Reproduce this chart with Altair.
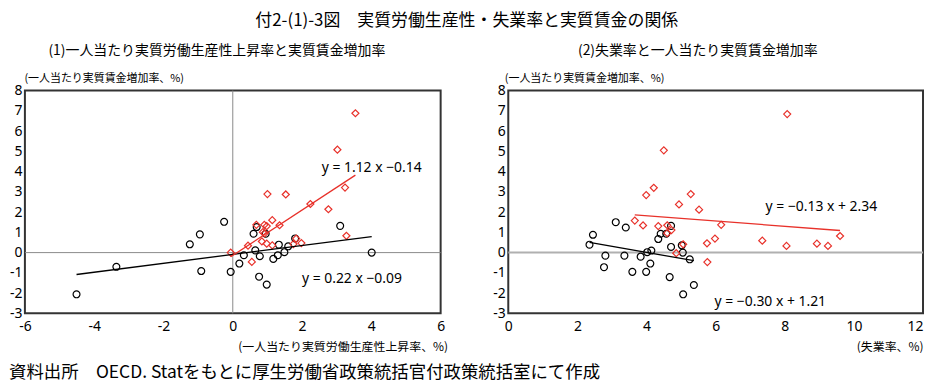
import altair as alt
import pandas as pd
import numpy as np

FONT_JP = "Noto Sans CJK JP"
FONT_NUM = "Noto Sans"
RED = "#e8312a"

title_main = "付2-(1)-3図　実質労働生産性・失業率と実質賃金の関係"
subtitle_1 = "(1)一人当たり実質労働生産性上昇率と実質賃金増加率"
subtitle_2 = "(2)失業率と一人当たり実質賃金増加率"
y_title = "(一人当たり実質賃金増加率、%)"
x_title_1 = "(一人当たり実質労働生産性上昇率、%)"
x_title_2 = "(失業率、%)"
footnote = "資料出所　OECD. Statをもとに厚生労働省政策統括官付政策統括室にて作成"

# Panel (1): productivity growth (x) vs real wage growth (y)
p1_black_x = [-4.51, -3.36, -1.24, -0.95, -0.91, -0.25, -0.06, 0.19, 0.32, 0.60, 0.69, 0.65,
              0.76, 0.78, 0.95, 0.98, 1.17, 1.30, 1.33, 1.49, 1.60, 1.80, 3.10, 4.01]
p1_black_y = [-2.06, -0.70, 0.41, 0.90, -0.91, 1.52, -0.95, -0.54, -0.13, 0.93, 1.26, 0.11,
              -1.19, -0.18, 0.93, -1.58, -0.31, -0.13, 0.39, 0.02, 0.31, 0.70, 1.32, 0.00]
p1_red_x = [3.54, 3.02, 3.24, 1.00, 1.53, 2.24, 2.76, 1.14, 1.35, 0.68, 0.91, 0.98,
            0.87, 0.92, 3.28, 1.83, 0.84, 0.98, 1.14, 0.44, 1.75, 1.98, -0.06, 0.55]
p1_red_y = [6.88, 5.08, 3.21, 2.89, 2.87, 2.40, 2.14, 1.60, 1.35, 1.37, 1.37, 1.31,
            1.01, 0.95, 0.83, 0.69, 0.55, 0.44, 0.36, 0.34, 0.42, 0.47, 0.00, -0.46]

# Panel (2): unemployment rate (x) vs real wage growth (y)
p2_black_x = [2.35, 2.45, 2.81, 2.77, 3.11, 3.36, 3.40, 3.59, 3.83, 3.99, 4.02, 4.11,
              4.14, 4.34, 4.41, 4.57, 4.71, 4.67, 4.71, 5.02, 5.05, 5.06, 5.25, 5.37]
p2_black_y = [0.39, 0.88, -0.15, -0.72, 1.50, -0.15, 1.24, -0.95, -0.20, -0.95, 0.02, -0.54,
              0.10, 0.67, 0.93, 0.93, 1.32, -1.21, 0.28, 0.36, 0.00, -2.06, -0.33, -1.60]
p2_red_x = [8.07, 4.50, 4.21, 3.99, 5.28, 4.94, 5.52, 3.66, 3.90, 4.34, 4.60, 6.16,
            4.72, 4.60, 5.98, 9.60, 7.35, 5.75, 5.06, 8.05, 8.93, 9.25, 4.86, 5.76]
p2_red_y = [6.84, 5.05, 3.20, 2.84, 2.89, 2.38, 2.12, 1.58, 1.34, 1.31, 1.35, 1.37,
            1.11, 0.96, 0.69, 0.82, 0.59, 0.46, 0.41, 0.33, 0.44, 0.33, -0.03, -0.47]

# Fitted lines (slope, intercept) as given in the chart
p1_fit_slope = {"black": 0.22, "red": 1.12}
p1_fit_intercept = {"black": -0.09, "red": -0.14}
p2_fit_slope = {"black": -0.30, "red": -0.13}
p2_fit_intercept = {"black": 1.21, "red": 2.34}

# Equation labels
p1_eq_text = ["y = 1.12 x −0.14", "y = 0.22 x −0.09"]
p1_eq_x = [4.01, 3.44]
p1_eq_y = [4.18, -1.32]
p2_eq_text = ["y = −0.13 x + 2.34", "y = −0.30 x + 1.21"]
p2_eq_x = [9.06, 7.58]
p2_eq_y = [2.27, -2.46]

y_ticks = list(range(-3, 9))
p1_x_ticks = [-6, -4, -2, 0, 2, 4, 6]
p2_x_ticks = [0, 2, 4, 6, 8, 10, 12]

PLOT_H = 224


def fit_frame(slope, intercept, groups_x):
    rows = []
    for grp, xs in groups_x.items():
        x0, x1 = min(xs), max(xs)
        for xv in (x0, x1):
            rows.append({"x": xv, "y": slope[grp] * xv + intercept[grp], "grp": grp})
    return pd.DataFrame(rows)


def make_panel(bx, by, rx, ry, slope, intercept, eq_t, eq_x, eq_y, xdom, xticks,
               xtitle, sub, width, vzero, zero_color, zero_width, xlabel_align,
               xtitle_dx, ytitle_dx, sub_dx):
    X = alt.X("x:Q", scale=alt.Scale(domain=xdom, nice=False, zero=False),
              axis=alt.Axis(values=xticks, title=xtitle, grid=False, ticks=False, domain=False,
                            labelAlign=xlabel_align, labelExpr="'' + datum.value",
                            labelFont=FONT_NUM, labelFontSize=14, labelColor="black",
                            labelPadding=6,
                            titleFont=FONT_JP, titleFontSize=12, titleFontWeight="normal",
                            titleColor="black", titleAlign="right", titleAnchor="end",
                            titleX=width + xtitle_dx, titleY=33, titleBaseline="middle"))
    Y = alt.Y("y:Q", scale=alt.Scale(domain=[-3, 8], nice=False, zero=False),
              axis=alt.Axis(values=y_ticks, title=y_title, grid=False, ticks=False, domain=False,
                            labelExpr="'' + datum.value",
                            labelFont=FONT_NUM, labelFontSize=14, labelColor="black",
                            labelPadding=3,
                            titleFont=FONT_JP, titleFontSize=11, titleFontWeight="normal",
                            titleColor="black", titleAngle=0, titleAlign="left",
                            titleX=ytitle_dx, titleY=-7, titleBaseline="bottom"))

    layers = []
    layers.append(alt.Chart(pd.DataFrame({"y": [0]})).mark_rule(
        color=zero_color, strokeWidth=zero_width).encode(y=Y))
    if vzero:
        layers.append(alt.Chart(pd.DataFrame({"x": [0]})).mark_rule(
            color=zero_color, strokeWidth=zero_width).encode(x=X))
    layers.append(alt.Chart(pd.DataFrame({"x": bx, "y": by})).mark_point(
        shape="circle", filled=False, color="black", size=48, strokeWidth=1.2, opacity=1
    ).encode(x=X, y=Y))
    layers.append(alt.Chart(pd.DataFrame({"x": rx, "y": ry})).mark_point(
        shape="diamond", filled=False, color=RED, size=50, strokeWidth=1.2, opacity=1
    ).encode(x=X, y=Y))
    fits = fit_frame(slope, intercept, {"black": bx, "red": rx})
    layers.append(alt.Chart(fits).mark_line(strokeWidth=1.3).encode(
        x=X, y=Y,
        color=alt.Color("grp:N", scale=alt.Scale(domain=["black", "red"], range=["black", RED]),
                        legend=None),
        detail="grp:N"))
    layers.append(alt.Chart(pd.DataFrame({"x": eq_x, "y": eq_y, "t": eq_t})).mark_text(
        font=FONT_NUM, fontSize=14, color="black").encode(x=X, y=Y, text="t:N"))

    return alt.layer(*layers).properties(
        width=width, height=PLOT_H,
        title=alt.TitleParams(sub, font=FONT_JP, fontSize=14, fontWeight="normal",
                              color="black", anchor="middle", dx=sub_dx, offset=15),
        view=alt.ViewBackground(stroke="#333333", strokeWidth=2),
    )


p1 = make_panel(p1_black_x, p1_black_y, p1_red_x, p1_red_y, p1_fit_slope, p1_fit_intercept,
                p1_eq_text, p1_eq_x, p1_eq_y, [-6, 6], p1_x_ticks, x_title_1, subtitle_1,
                418, True, "#8a8a8a", 1, "center", 7, -1, -16)
p2 = make_panel(p2_black_x, p2_black_y, p2_red_x, p2_red_y, p2_fit_slope, p2_fit_intercept,
                p2_eq_text, p2_eq_x, p2_eq_y, [0, 12], p2_x_ticks, x_title_2, subtitle_2,
                417, False, "#b0b0b0", 2,
                {"condition": {"test": "datum.value >= 12", "value": "right"}, "value": "center"},
                0, -4, -18)

foot = alt.Chart(pd.DataFrame({"t": [footnote]})).mark_text(
    align="left", baseline="middle", font=FONT_JP, fontSize=17.5, color="black"
).encode(text="t:N", x=alt.value(-16), y=alt.value(8)).properties(
    width=600, height=16, view=alt.ViewBackground(stroke="transparent"))

chart = alt.vconcat(
    alt.hconcat(p1, p2, spacing=43),
    foot,
    spacing=10,
).properties(
    title=alt.TitleParams(title_main, font=FONT_JP, fontSize=17, fontWeight="normal",
                          color="black", anchor="middle", offset=13, limit=900),
    padding={"top": 3, "left": 0, "right": 0, "bottom": 0},
).configure_view(stroke="transparent")

chart.save("out.html", embed_options={"renderer": "svg", "actions": False})
